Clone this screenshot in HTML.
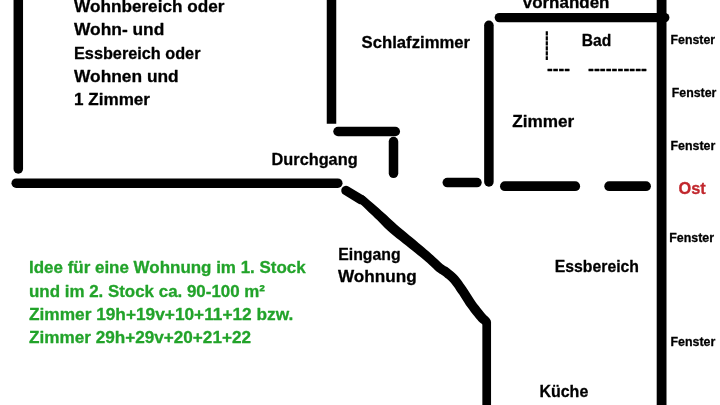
<!DOCTYPE html>
<html lang="de">
<head>
<meta charset="utf-8">
<title>Grundriss Wohnung</title>
<style>
html,body{margin:0;padding:0;background:#fff;overflow:hidden}
body{width:720px;height:405px;position:relative}
svg{position:absolute;left:0;top:0;display:block;will-change:transform}
text{font-family:"Liberation Sans",sans-serif;font-weight:bold;fill:#000;stroke:#000;stroke-width:0.3px;stroke-linejoin:round}
.t{font-size:17.2px}
.f{font-size:13.3px}
.g{font-size:17.2px;fill:#22a32a;stroke:#22a32a}
.o{font-size:17.4px;fill:#c1272d;stroke:#c1272d}
.w{stroke:#000;fill:none;stroke-linecap:round;stroke-linejoin:round}
</style>
</head>
<body>
<svg width="720" height="405" viewBox="0 0 720 405">
<rect width="720" height="405" fill="#fff"/>
<!-- walls -->
<g class="w" stroke-width="9.5">
<line x1="18.3" y1="-10" x2="18.3" y2="169"/>
<line x1="16.2" y1="183.2" x2="337.8" y2="183.2"/>
<line x1="331.5" y1="-10" x2="331.5" y2="123.75" stroke-linecap="butt"/>
<line x1="338" y1="131.5" x2="395.3" y2="131.5"/>
<line x1="393.5" y1="141.5" x2="393.5" y2="173.3"/>
<line x1="447.3" y1="182.6" x2="477" y2="182.6"/>
<line x1="488.9" y1="25.3" x2="488.9" y2="182"/>
<line x1="499.3" y1="17.6" x2="664.8" y2="17.6" stroke-width="9.3"/>
<line x1="504.9" y1="186.2" x2="575.2" y2="186.2" stroke-width="9.8"/>
<line x1="609.2" y1="186.2" x2="646" y2="186.2" stroke-width="9.8"/>
<line x1="661.6" y1="-10" x2="661.6" y2="415" stroke-linecap="butt" stroke-width="9.8"/>
<path id="dA" d="M346 190.5 L361 199.6" stroke-width="9.5"/>
<path id="diag" d="M359.2 202.8 L360.9 204.4 L363.4 206.7 L366.2 209.4 L369.2 212.4 L372.3 215.3 L375.0 217.9 L377.5 220.3 L379.9 222.8 L382.3 225.2 L384.7 227.7 L387.4 230.2 L390.2 232.7 L393.2 235.3 L396.5 238.0 L399.9 240.6 L403.2 243.3 L406.5 245.8 L409.5 248.2 L412.4 250.5 L415.2 252.8 L417.9 254.9 L420.5 257.0 L422.9 259.0 L425.2 260.9 L427.3 262.8 L429.4 264.7 L431.3 266.6 L433.2 268.3 L434.9 270.0 L436.6 271.4 L438.1 272.6 L439.4 273.5 L440.4 274.1 L441.2 274.5 L441.8 274.9 L442.7 275.6 L444.0 276.6 L445.3 277.7 L446.8 278.8 L448.2 280.1 L449.5 281.3 L450.7 282.6 L451.9 284.0 L453.0 285.4 L454.2 287.0 L455.4 288.8 L456.6 290.7 L458.0 292.7 L459.5 294.8 L461.0 297.2 L462.6 299.7 L464.2 302.3 L465.9 304.9 L467.6 307.3 L469.3 309.6 L471.0 312.0 L472.8 314.2 L474.5 316.3 L476.0 318.2 L477.4 319.8 L478.6 321.2 L479.7 322.2 L480.6 323.1 L481.4 323.6 L481.9 324.0 L482.2 324.2 L482.2 324.2 L483.8 325.1 L485.6 325.3 L487.4 324.8 L488.8 323.6 L489.7 322.0 L489.9 320.2 L489.4 318.4 L488.2 317.0 L488.2 317.0 L487.7 316.6 L487.2 316.2 L486.7 315.8 L486.2 315.3 L485.5 314.6 L484.6 313.6 L483.4 312.1 L482.0 310.3 L480.4 308.3 L478.7 306.1 L477.0 303.9 L475.4 301.7 L473.9 299.5 L472.3 297.1 L470.7 294.6 L469.1 292.0 L467.5 289.6 L466.0 287.3 L464.6 285.3 L463.3 283.4 L462.0 281.5 L460.7 279.7 L459.3 277.9 L457.9 276.2 L456.2 274.5 L454.6 273.0 L452.9 271.5 L451.3 270.2 L449.8 269.1 L448.5 268.0 L447.2 267.1 L446.0 266.4 L445.1 265.9 L444.4 265.5 L443.7 265.0 L442.6 264.2 L441.2 263.0 L439.6 261.5 L437.8 259.8 L435.8 257.9 L433.7 255.9 L431.4 253.9 L429.0 251.8 L426.5 249.7 L424.0 247.5 L421.3 245.3 L418.5 243.0 L415.7 240.6 L412.7 238.1 L409.5 235.4 L406.3 232.7 L403.0 230.0 L399.9 227.4 L397.0 224.9 L394.3 222.5 L391.8 220.2 L389.3 217.9 L386.8 215.6 L384.2 213.3 L381.6 210.9 L378.7 208.3 L375.5 205.5 L372.3 202.8 L369.3 200.2 L366.8 198.0 L365.0 196.4 L365.0 196.4 L363.6 195.6 L361.9 195.3 L360.3 195.7 L358.9 196.7 L358.1 198.1 L357.8 199.8 L358.2 201.4 L359.2 202.8Z" fill="#000" stroke="none"/>
<line x1="486.7" y1="322" x2="486.7" y2="415" stroke-width="8.7"/>
</g>
<line x1="546.8" y1="31.3" x2="546.8" y2="60.1" stroke="#000" stroke-width="2.2" stroke-dasharray="4.1 0.9"/>
<!-- labels -->
<text class="t" x="74" y="11.9" textLength="150.5" lengthAdjust="spacingAndGlyphs">Wohnbereich oder</text>
<text class="t" x="74" y="35.3" textLength="90.3" lengthAdjust="spacingAndGlyphs">Wohn- und</text>
<text class="t" x="74" y="58.7" textLength="126.5" lengthAdjust="spacingAndGlyphs">Essbereich oder</text>
<text class="t" x="74" y="82" textLength="104.7" lengthAdjust="spacingAndGlyphs">Wohnen und</text>
<text class="t" x="74" y="105.4" textLength="76" lengthAdjust="spacingAndGlyphs">1 Zimmer</text>
<text class="t" x="271.6" y="164.5" textLength="86" lengthAdjust="spacingAndGlyphs">Durchgang</text>
<text class="t" x="361.6" y="48" textLength="108.5" lengthAdjust="spacingAndGlyphs">Schlafzimmer</text>
<text class="t" x="522.7" y="7.6" textLength="86.8" lengthAdjust="spacingAndGlyphs">vorhanden</text>
<text class="t" x="581.75" y="46.15" textLength="29.5" lengthAdjust="spacingAndGlyphs">Bad</text>
<text class="t" x="547" y="74.2" textLength="23" lengthAdjust="spacingAndGlyphs">----</text>
<text class="t" x="588" y="74.2" textLength="59" lengthAdjust="spacingAndGlyphs">----------</text>
<text class="t" x="512.3" y="127.4" textLength="62" lengthAdjust="spacingAndGlyphs">Zimmer</text>
<text class="t" x="338.3" y="259.6" textLength="62.3" lengthAdjust="spacingAndGlyphs">Eingang</text>
<text class="t" x="338" y="281.8" textLength="78.7" lengthAdjust="spacingAndGlyphs">Wohnung</text>
<text class="t" x="554.8" y="272.1" textLength="84.2" lengthAdjust="spacingAndGlyphs">Essbereich</text>
<text class="t" x="539.4" y="396.7" textLength="48.9" lengthAdjust="spacingAndGlyphs">Küche</text>
<text class="f" x="670.5" y="43.75" textLength="44.55" lengthAdjust="spacingAndGlyphs">Fenster</text>
<text class="f" x="671.75" y="97.00" textLength="44.55" lengthAdjust="spacingAndGlyphs">Fenster</text>
<text class="f" x="670.5" y="149.50" textLength="44.80" lengthAdjust="spacingAndGlyphs">Fenster</text>
<text class="f" x="669.25" y="242.00" textLength="44.80" lengthAdjust="spacingAndGlyphs">Fenster</text>
<text class="f" x="670.5" y="346.00" textLength="44.80" lengthAdjust="spacingAndGlyphs">Fenster</text>
<text class="o" x="678.4" y="194.1" textLength="27.3" lengthAdjust="spacingAndGlyphs">Ost</text>
<text class="g" x="29" y="273.2" textLength="276.7" lengthAdjust="spacingAndGlyphs">Idee für eine Wohnung im 1. Stock</text>
<text class="g" x="29" y="296.6" textLength="236" lengthAdjust="spacingAndGlyphs">und im 2. Stock ca. 90-100 m²</text>
<text class="g" x="29" y="320" textLength="264.3" lengthAdjust="spacingAndGlyphs">Zimmer 19h+19v+10+11+12 bzw.</text>
<text class="g" x="29" y="343.4" textLength="222" lengthAdjust="spacingAndGlyphs">Zimmer 29h+29v+20+21+22</text>
</svg>
</body>
</html>
